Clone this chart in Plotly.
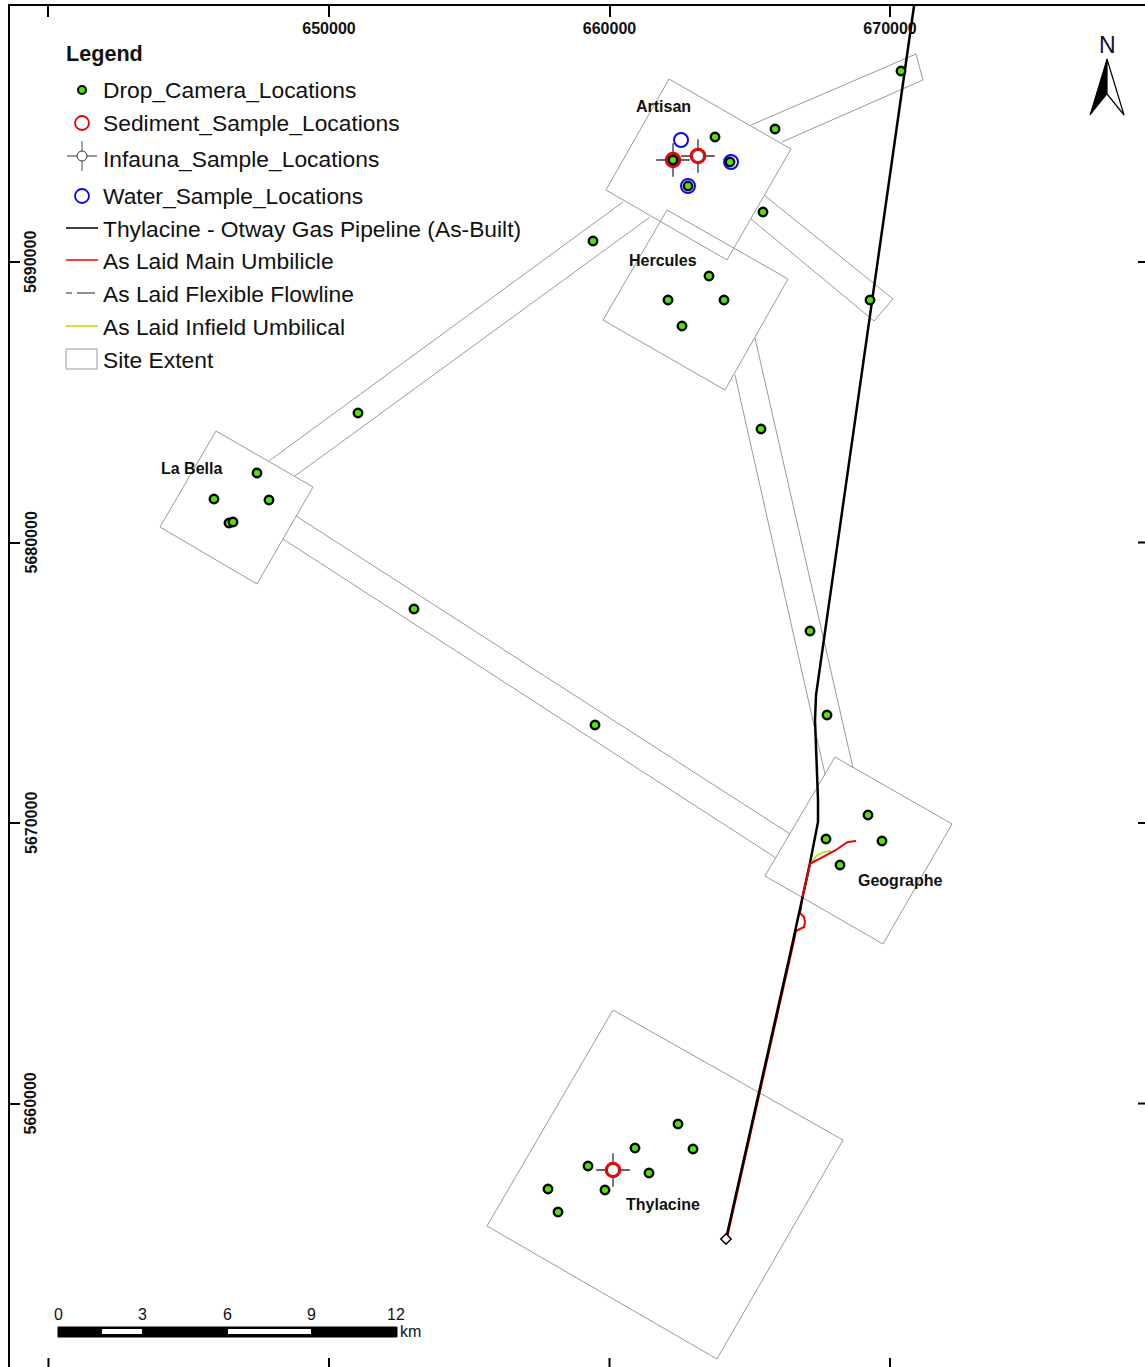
"""
Survey site map: drop camera and sample locations around the Otway gas fields.
"""

import plotly.graph_objects as go

# Map grid ticks (easting / northing, metres)
easting_ticks = [640000, 650000, 660000, 670000]
easting_labels = ["", "650000", "660000", "670000"]
northing_ticks = [5660000, 5670000, 5680000, 5690000]
northing_labels = ["5660000", "5670000", "5680000", "5690000"]

# Point layers
camera_e = [670392, 665900, 663761, 665472, 659412, 669287, 663547, 662085, 664082,
            662584, 665401, 651034, 647433, 645900, 647861, 646435, 646578, 653030,
            667148, 667754, 659483, 669215, 667718, 669714, 668217, 662442, 662977,
            660909, 659233, 661408, 659839, 657807, 658164, 662264, 664296, 662798]
camera_n = [5696809, 5694741, 5694456, 5691783, 5690749, 5688645, 5689501, 5688645, 5688645,
            5687718, 5684046, 5684617, 5682478, 5681551, 5681515, 5680695, 5680731, 5677629,
            5676845, 5673851, 5673494, 5670286, 5669430, 5669359, 5668503, 5659270, 5658378,
            5658414, 5657772, 5657523, 5656917, 5656952, 5656132, 5693636, 5693565, 5692709]
sediment_e = [662264, 663155, 660125]
sediment_n = [5693636, 5693779, 5657630]
infauna_e = [662264, 663155, 660125]
infauna_n = [5693636, 5693779, 5657630]
infauna_fill = ["#000000", "#ffffff", "#ffffff"]
water_e = [662549, 664331, 662798]
water_n = [5694349, 5693565, 5692709]

# Site extents
artisan_e = [662121, 666470, 664189, 659875, 662121]
artisan_n = [5696524, 5694028, 5690071, 5692567, 5696524]
hercules_e = [662050, 666363, 664117, 659768, 662050]
hercules_n = [5691854, 5689394, 5685437, 5687932, 5691854]
labella_e = [645972, 649430, 647433, 643975, 645972]
labella_n = [5683975, 5681979, 5678521, 5680553, 5683975]
geographe_e = [668039, 672210, 669750, 665543, 668039]
geographe_n = [5672353, 5669965, 5665687, 5668111, 5672353]
thylacine_e = [660125, 668324, 663832, 655633, 660125]
thylacine_n = [5663334, 5658699, 5650892, 5655633, 5663334]

# Corridors between sites (open ends stop at the site edge)
corridor_ne_e = [665044, 670927, 671176, 666149]
corridor_ne_n = [5694884, 5697415, 5696488, 5694278]
corridor_se_e = [665508, 670107, 669429, 665044]
corridor_se_n = [5692389, 5688681, 5687897, 5691533]
corridor_west_e = [660481, 647861, None, 661444, 648788]
corridor_west_n = [5692139, 5682906, None, 5691604, 5682371]
corridor_south_e = [648824, 666435, None, 648360, 665936]
corridor_south_n = [5680945, 5669608, None, 5680125, 5668753]
corridor_east_e = [664474, 667682, None, 665187, 668681]
corridor_east_n = [5685972, 5671747, None, 5687291, 5671961]

# Pipeline and as-laid lines
pipeline_e = [670855, 667362, 667326, 667433, 667433, 667148, 666470, 664153]
pipeline_n = [5699126, 5674564, 5673672, 5670820, 5670036, 5668574, 5665473, 5655170]
# umbilical north of the loop shows over the pipeline, south of it runs under
umbilical_north_e = [668788, 668502, 668324, 668075, 667148, 667005, 666880]
umbilical_north_n = [5669359, 5669323, 5669216, 5669038, 5668539, 5667897, 5667362]
umbilical_south_e = [666880, 666791, 666934, 666969, 666934, 666791, 666649, 666542, 664189]
umbilical_south_n = [5667362, 5666792, 5666649, 5666471, 5666293, 5666221, 5666150, 5665651, 5655206]
infield_e = [667219, 667397, 667647, 667896]
infield_n = [5668610, 5668860, 5668966, 5669002]
flowline_e = [667219, 667647, 668075]
flowline_n = [5668610, 5668800, 5669038]
wellhead_e = [664153]
wellhead_n = [5655170]

site_names = ["Artisan", "Hercules", "La Bella", "Geographe", "Thylacine"]
site_label_e = [661907, 661907, 645116, 670356, 661907]
site_label_n = [5695526, 5690071, 5682656, 5667933, 5656418]

legend_names = ["Drop_Camera_Locations", "Sediment_Sample_Locations", "Infauna_Sample_Locations",
                "Water_Sample_Locations", "Thylacine - Otway Gas Pipeline (As-Built)",
                "As Laid Main Umbilicle", "As Laid Flexible Flowline", "As Laid Infield Umbilical",
                "Site Extent"]
legend_rows = [90, 123, 159, 196, 229, 261, 294, 327, 360]
scale_labels = ["0", "3", "6", "9", "12"]
scale_label_px = [58, 142, 227, 311, 396]

FONT = "Liberation Sans"
GREY = "#999999"
WIDTH, HEIGHT = 1145, 1367
LEFT, TOP = 10, 6


def px(x):
    return (x - LEFT) / (WIDTH - LEFT)


def py(y):
    return 1 - (y - TOP) / (HEIGHT - TOP)


def rect(x0, y0, x1, y1, fill, line="#000000", width=1):
    return dict(type="rect", xref="paper", yref="paper", x0=px(x0), x1=px(x1), y0=py(y0), y1=py(y1),
                fillcolor=fill, line=dict(color=line, width=width), layer="above")


def seg(x0, y0, x1, y1, color, width=1.5, dash="solid"):
    return dict(type="line", xref="paper", yref="paper", x0=px(x0), x1=px(x1), y0=py(y0), y1=py(y1),
                line=dict(color=color, width=width, dash=dash), layer="above")


def circle(cx, cy, r, fill, color, width):
    return dict(type="circle", xref="paper", yref="paper", x0=px(cx - r), x1=px(cx + r),
                y0=py(cy + r), y1=py(cy - r), fillcolor=fill,
                line=dict(color=color, width=width), layer="above")


def label(x, y, text, size=22.8, bold=False, anchor="left", color="#111111"):
    fig.add_annotation(xref="paper", yref="paper", x=px(x), y=py(y), text=f"<b>{text}</b>" if bold else text,
                       showarrow=False, xanchor=anchor, yanchor="middle",
                       font=dict(family=FONT, size=size, color=color))


fig = go.Figure()

# Site extents and corridors
for xs, ys in [(corridor_ne_e, corridor_ne_n), (corridor_se_e, corridor_se_n),
               (corridor_west_e, corridor_west_n), (corridor_south_e, corridor_south_n),
               (corridor_east_e, corridor_east_n), (artisan_e, artisan_n),
               (hercules_e, hercules_n), (labella_e, labella_n),
               (geographe_e, geographe_n), (thylacine_e, thylacine_n)]:
    fig.add_trace(go.Scatter(x=xs, y=ys, mode="lines", line=dict(color=GREY, width=1), hoverinfo="skip"))

# Lines
fig.add_trace(go.Scatter(x=umbilical_south_e, y=umbilical_south_n, mode="lines", name=legend_names[5],
                         line=dict(color="#f00000", width=2)))
fig.add_trace(go.Scatter(x=pipeline_e, y=pipeline_n, mode="lines", name=legend_names[4],
                         line=dict(color="#000000", width=2.5)))
fig.add_trace(go.Scatter(x=flowline_e, y=flowline_n, mode="lines", name=legend_names[6],
                         line=dict(color="#000000", width=1, dash="dash")))
fig.add_trace(go.Scatter(x=infield_e, y=infield_n, mode="lines", name=legend_names[7],
                         line=dict(color="#a8e000", width=1.5)))
fig.add_trace(go.Scatter(x=umbilical_north_e, y=umbilical_north_n, mode="lines", name=legend_names[5],
                         line=dict(color="#f00000", width=2)))
fig.add_trace(go.Scatter(x=wellhead_e, y=wellhead_n, mode="markers",
                         marker=dict(symbol="diamond", size=8, color="#ffffff",
                                     line=dict(color="#000000", width=1.5))))

# Points
fig.add_trace(go.Scatter(x=water_e, y=water_n, mode="markers", name=legend_names[3],
                         marker=dict(size=14, color="rgba(0,0,0,0)", line=dict(color="#0a0aee", width=2))))
fig.add_trace(go.Scatter(x=infauna_e, y=infauna_n, mode="markers", name=legend_names[2],
                         marker=dict(symbol="cross-thin", size=24, line=dict(color="#333333", width=1.3))))
fig.add_trace(go.Scatter(x=infauna_e, y=infauna_n, mode="markers", hoverinfo="skip",
                         marker=dict(size=11, color=infauna_fill, line=dict(color="#333333", width=1))))
fig.add_trace(go.Scatter(x=sediment_e, y=sediment_n, mode="markers", name=legend_names[1],
                         marker=dict(size=14, color="rgba(0,0,0,0)", line=dict(color="#f00000", width=2.6))))
fig.add_trace(go.Scatter(x=camera_e, y=camera_n, mode="markers", name=legend_names[0],
                         marker=dict(size=8.5, color="#50e600", line=dict(color="#000000", width=2.4))))

for name, x, y in zip(site_names, site_label_e, site_label_n):
    fig.add_annotation(x=x, y=y, text=f"<b>{name}</b>", showarrow=False,
                       font=dict(family=FONT, size=16, color="#111111"))

fig.update_layout(
    width=WIDTH,
    height=HEIGHT,
    margin=dict(l=LEFT, r=0, t=TOP, b=0),
    paper_bgcolor="#ffffff",
    plot_bgcolor="#ffffff",
    showlegend=False,
    xaxis=dict(
        range=[638628, 679090],
        side="top",
        tickmode="array",
        tickvals=easting_ticks,
        ticktext=easting_labels,
        ticks="inside",
        ticklen=11,
        tickwidth=2,
        tickcolor="#000000",
        ticklabelposition="inside",
        ticklabelstandoff=6,
        tickangle=0,
        tickfont=dict(family=FONT, size=16, color="#111111", weight="bold"),
        showline=True,
        linecolor="#000000",
        linewidth=2,
        showgrid=False,
        zeroline=False,
    ),
    yaxis=dict(
        range=[5650607, 5699126],
        tickmode="array",
        tickvals=northing_ticks,
        ticks="inside",
        ticklen=10,
        tickwidth=2,
        tickcolor="#000000",
        showticklabels=False,
        showline=True,
        linecolor="#000000",
        linewidth=2,
        showgrid=False,
        zeroline=False,
    ),
)

# Northing labels sit rotated just inside the frame
for n, text in zip(northing_ticks, northing_labels):
    fig.add_annotation(xref="paper", yref="y", x=px(31), y=n, text=f"<b>{text}</b>", textangle=-90,
                       xanchor="center", showarrow=False, font=dict(family=FONT, size=16, color="#111111"))

shapes = []

# Mirrored ticks along the bottom and right edges
for e in easting_ticks:
    shapes.append(dict(type="line", xref="x", yref="paper", x0=e, x1=e, y0=py(1358), y1=py(1367),
                       line=dict(color="#000000", width=2)))
for n in northing_ticks:
    shapes.append(dict(type="line", xref="paper", yref="y", x0=px(1138), x1=px(1145), y0=n, y1=n,
                       line=dict(color="#000000", width=2)))

# Legend keys
KEY_X = 82
shapes.append(circle(KEY_X, legend_rows[0], 4, "#50e600", "#000000", 2))
shapes.append(circle(KEY_X, legend_rows[1], 7, "rgba(0,0,0,0)", "#f00000", 1.8))
shapes.append(seg(KEY_X - 15, legend_rows[2] - 3, KEY_X + 15, legend_rows[2] - 3, "#333333", 1))
shapes.append(seg(KEY_X, legend_rows[2] - 18, KEY_X, legend_rows[2] + 12, "#335577", 1))
shapes.append(circle(KEY_X, legend_rows[2] - 3, 5, "#ffffff", "#333333", 1))
shapes.append(circle(KEY_X, legend_rows[3], 7, "rgba(0,0,0,0)", "#0a0aee", 1.8))
shapes.append(seg(66, legend_rows[4] - 1, 98, legend_rows[4] - 1, "#000000", 1.5))
shapes.append(seg(66, legend_rows[5] - 1, 98, legend_rows[5] - 1, "#f00000", 1.5))
shapes.append(seg(66, legend_rows[6] - 1, 72, legend_rows[6] - 1, "#222222", 1))
shapes.append(seg(77, legend_rows[6] - 1, 95, legend_rows[6] - 1, "#222222", 1))
shapes.append(seg(66, legend_rows[7] - 1, 98, legend_rows[7] - 1, "#a8e000", 1.5))
shapes.append(rect(66, legend_rows[8] - 11, 97, legend_rows[8] + 9, "#ffffff", GREY, 1))

# Scale bar
shapes.append(rect(58, 1327, 397, 1337, "#000000", "#000000", 1))
shapes.append(rect(102, 1329, 142, 1334, "#ffffff", "#ffffff", 0))
shapes.append(rect(228, 1329, 311, 1334, "#ffffff", "#ffffff", 0))

# North arrow
shapes.append(dict(type="path", xref="paper", yref="paper", layer="above",
                   path=f"M {px(1107)} {py(59)} L {px(1090)} {py(115)} L {px(1107)} {py(94)} Z",
                   fillcolor="#000000", line=dict(color="#000000", width=1)))
shapes.append(dict(type="path", xref="paper", yref="paper", layer="above",
                   path=f"M {px(1107)} {py(59)} L {px(1124)} {py(115)} L {px(1107)} {py(94)} Z",
                   fillcolor="#ffffff", line=dict(color="#000000", width=1.2)))
fig.update_layout(shapes=shapes)

label(64, 54, "Legend", size=21.6, bold=True)
for name, row in zip(legend_names, legend_rows):
    label(101, row, name)
for text, x in zip(scale_labels, scale_label_px):
    label(x, 1314, text, size=16, anchor="center")
label(398, 1331, "km", size=16)
label(1107, 45, "N", size=23, anchor="center", color="#111133")

# page body has a default margin, drop it so the figure sits at the window corner
fig.write_html("out.html", config={"displayModeBar": False},
               post_script="document.body.style.margin='0';document.body.style.overflow='hidden';")
